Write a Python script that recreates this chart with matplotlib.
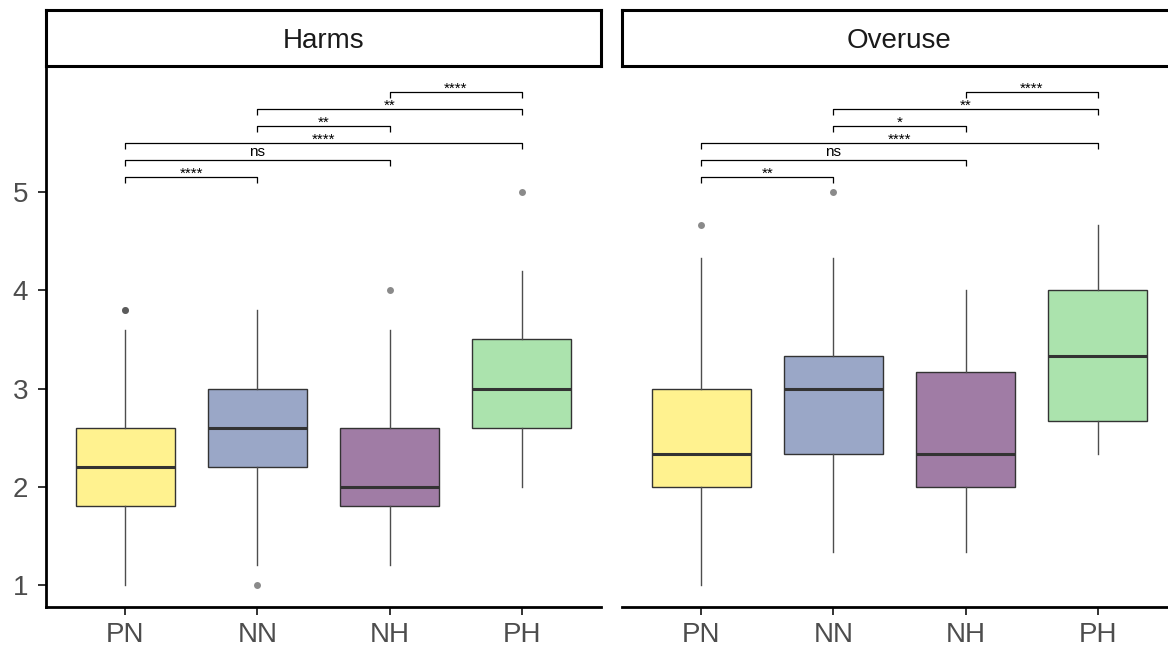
import matplotlib
matplotlib.use('Agg')
import matplotlib.pyplot as plt

plt.rcParams['font.family'] = ['Liberation Sans', 'DejaVu Sans']

# ---------------- data ----------------
groups = ['PN', 'NN', 'NH', 'PH']
panels = ['Harms', 'Overuse']
colors = ['#FFF28F', '#9AA7C7', '#A07CA5', '#ABE3AD']

harms_whislo = [1.0, 1.2, 1.2, 2.0]
harms_q1 = [1.8, 2.2, 1.8, 2.6]
harms_med = [2.2, 2.6, 2.0, 3.0]
harms_q3 = [2.6, 3.0, 2.6, 3.5]
harms_whishi = [3.6, 3.8, 3.6, 4.2]
harms_fliers = [[3.8, 3.8], [1.0], [4.0], [5.0]]

overuse_whislo = [1.0, 1.333, 1.333, 2.333]
overuse_q1 = [2.0, 2.333, 2.0, 2.667]
overuse_med = [2.333, 3.0, 2.333, 3.333]
overuse_q3 = [3.0, 3.333, 3.167, 4.0]
overuse_whishi = [4.333, 4.333, 4.0, 4.667]
overuse_fliers = [[4.667], [5.0], [], []]

comparisons = [('PN', 'NN'), ('PN', 'NH'), ('PN', 'PH'),
               ('NN', 'NH'), ('NN', 'PH'), ('NH', 'PH')]
harms_sig = ['****', 'ns', '****', '**', '**', '****']
overuse_sig = ['**', 'ns', '****', '*', '**', '****']

yticks = [1, 2, 3, 4, 5]

panel_data = {
    'Harms': (harms_whislo, harms_q1, harms_med, harms_q3, harms_whishi, harms_fliers, harms_sig),
    'Overuse': (overuse_whislo, overuse_q1, overuse_med, overuse_q3, overuse_whishi, overuse_fliers, overuse_sig),
}

# ---------------- layout ----------------
W, H = 1168, 649
fig = plt.figure(figsize=(W / 100, H / 100), dpi=100)
fig.patch.set_facecolor('white')

panel_lefts = [46, 622]
pw = 555
ax_top, ax_bot = 67, 607
strip_top, strip_bot = 10, 66

bracket_base = 5.15
bracket_step = 0.173
tick_drop = 0.055

for k, name in enumerate(panels):
    left = panel_lefts[k]
    ax = fig.add_axes([left / W, 1 - ax_bot / H, pw / W, (ax_bot - ax_top) / H])
    wl, q1, med, q3, wh, fl, sig = panel_data[name]
    stats = []
    for i, g in enumerate(groups):
        stats.append(dict(whislo=wl[i], q1=q1[i], med=med[i], q3=q3[i],
                          whishi=wh[i], fliers=fl[i], label=g))
    pos = list(range(1, len(groups) + 1))
    bp = ax.bxp(stats, positions=pos, widths=0.75, patch_artist=True,
                showcaps=False,
                boxprops=dict(edgecolor='#333333', linewidth=1.0),
                medianprops=dict(color='#333333', linewidth=2.2, solid_capstyle='butt'),
                whiskerprops=dict(color='#4D4D4D', linewidth=1.0),
                flierprops=dict(marker='o', markerfacecolor='#3c3c3c', markeredgecolor='none',
                                markersize=5, alpha=0.6))
    for patch, c in zip(bp['boxes'], colors):
        patch.set_facecolor(c)

    # significance brackets
    for j, (a, b) in enumerate(comparisons):
        xa = groups.index(a) + 1
        xb = groups.index(b) + 1
        y = bracket_base + j * bracket_step
        ax.plot([xa, xa, xb, xb], [y - tick_drop, y, y, y - tick_drop],
                color='black', linewidth=0.9, solid_capstyle='butt', clip_on=False)
        lab = sig[j]
        if lab == 'ns':
            ax.text((xa + xb) / 2, y + 0.045, lab, ha='center', va='baseline',
                    fontsize=11, color='black')
        else:
            ax.text((xa + xb) / 2, y - 0.005, lab, ha='center', va='baseline',
                    fontsize=11, color='black')

    ax.set_xlim(0.4, 4.6)
    ax.set_ylim(0.776, 6.273)
    ax.set_xticks(pos)
    ax.set_xticklabels(groups)
    for s in ['top', 'right']:
        ax.spines[s].set_visible(False)
    ax.spines['bottom'].set_linewidth(2.0)
    ax.spines['bottom'].set_color('black')
    ax.tick_params(axis='x', length=6, width=1.4, color='#333333',
                   labelsize=20, labelcolor='#4D4D4D', pad=4.5)
    if k == 0:
        ax.spines['left'].set_linewidth(2.0)
        ax.spines['left'].set_color('black')
        ax.set_yticks(yticks)
        ax.tick_params(axis='y', length=6, width=1.4, color='#333333',
                       labelsize=20, labelcolor='#4D4D4D', pad=7)
    else:
        ax.spines['left'].set_visible(False)
        ax.set_yticks([])
    ax.set_facecolor('white')

    # strip
    sax = fig.add_axes([left / W, 1 - strip_bot / H, pw / W, (strip_bot - strip_top) / H])
    sax.set_xticks([])
    sax.set_yticks([])
    for s in sax.spines.values():
        s.set_linewidth(2.2)
        s.set_color('black')
    sax.set_facecolor('white')
    sax.text(0.5, 0.44, name, ha='center', va='center', fontsize=20,
             color='#1A1A1A', transform=sax.transAxes)

fig.savefig('out.png', dpi=100, facecolor='white')
